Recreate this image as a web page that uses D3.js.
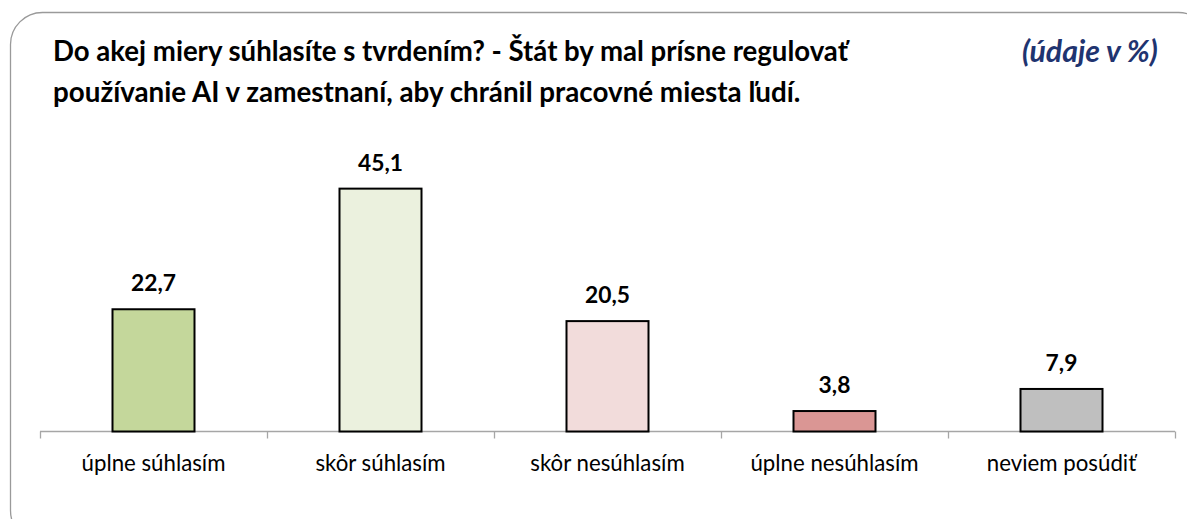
<!DOCTYPE html>
<html><head><meta charset="utf-8">
<script src="https://cdn.jsdelivr.net/npm/d3@7"></script>
<style>body{margin:0;background:#fff;}svg{display:block;}</style>
</head><body>
<script>
const categories = ["úplne súhlasím","skôr súhlasím","skôr nesúhlasím","úplne nesúhlasím","neviem posúdiť"];
const values = [22.7, 45.1, 20.5, 3.8, 7.9];
const valueLabels = ["22,7","45,1","20,5","3,8","7,9"];
const colors = ["#c4d79b","#ebf1de","#f2dcdb","#da9694","#bfbfbf"];
const titleLines = ["Do akej miery súhlasíte s tvrdením? - Štát by mal prísne regulovať","používanie AI v zamestnaní, aby chránil pracovné miesta ľudí."];
const unitLabel = "(údaje v %)";

const W=1187,H=519;
const FONT = "Lato, 'Open Sans', sans-serif";
const svg=d3.select("body").append("svg").attr("width",W).attr("height",H);
svg.append("rect").attr("x",10.5).attr("y",12.5).attr("width",1200).attr("height",530)
  .attr("rx",32).attr("ry",32).attr("fill","#fff").attr("stroke","#9a9a9a").attr("stroke-width",1.3);

function fit(sel,target){const n=sel.node();const fs=parseFloat(sel.attr("font-size"));const w=n.getComputedTextLength();const nf=fs*target/w;sel.attr("font-size",nf);return nf;}

const t1=svg.append("text").attr("x",53).attr("y",61).attr("font-family",FONT).attr("font-weight","bold").attr("font-size",20).attr("fill","#000").text(titleLines[0]);
fit(t1,795);
const t2=svg.append("text").attr("x",53).attr("y",102).attr("font-family",FONT).attr("font-weight","bold").attr("font-size",20).attr("fill","#000").text(titleLines[1]);
fit(t2,748);
const u=svg.append("text").attr("x",1022).attr("y",62).attr("font-family",FONT).attr("font-weight","bold").attr("font-style","italic").attr("font-size",22).attr("fill","#1f3470").text(unitLabel);
fit(u,136);

const x=d3.scaleBand().domain(categories).range([40,1175]).paddingInner(0).paddingOuter(0);
const y=d3.scaleLinear().domain([0,50]).range([431.5,431.5-50*5.385]);

const ax=svg.append("g").attr("transform","translate(0,431.5)");
ax.append("line").attr("x1",40).attr("x2",1175).attr("stroke","#a6a6a6").attr("stroke-width",1.3);
const ticks=categories.map(c=>x(c)).concat([x.range()[1]]);
ax.selectAll("line.tk").data(ticks).enter().append("line").attr("class","tk")
  .attr("x1",d=>Math.round(d)+0.5).attr("x2",d=>Math.round(d)+0.5).attr("y1",0).attr("y2",7).attr("stroke","#a6a6a6").attr("stroke-width",1.3);

const bw=82;
svg.selectAll("rect.bar").data(values).enter().append("rect").attr("class","bar")
  .attr("x",(d,i)=>x(categories[i])+x.bandwidth()/2-bw/2)
  .attr("y",d=>y(d)).attr("width",bw).attr("height",d=>y(0)-y(d))
  .attr("fill",(d,i)=>colors[i]).attr("stroke","#000").attr("stroke-width",2);

const vals=svg.selectAll("text.val").data(values).enter().append("text").attr("class","val")
  .attr("x",(d,i)=>x(categories[i])+x.bandwidth()/2).attr("y",d=>y(d)-18)
  .attr("text-anchor","middle").attr("font-family",FONT).attr("font-weight","bold").attr("font-size",20).attr("fill","#000")
  .text((d,i)=>valueLabels[i]);
const vfs=fit(d3.select(vals.nodes()[1]),45);
vals.attr("font-size",vfs);

const cats=svg.selectAll("text.cat").data(categories).enter().append("text").attr("class","cat")
  .attr("x",d=>x(d)+x.bandwidth()/2).attr("y",471)
  .attr("text-anchor","middle").attr("font-family",FONT).attr("font-size",19.5).attr("fill","#000")
  .text(d=>d);
const cfs=fit(d3.select(cats.nodes()[0]),144);
cats.attr("font-size",cfs);
</script>
</body></html>
